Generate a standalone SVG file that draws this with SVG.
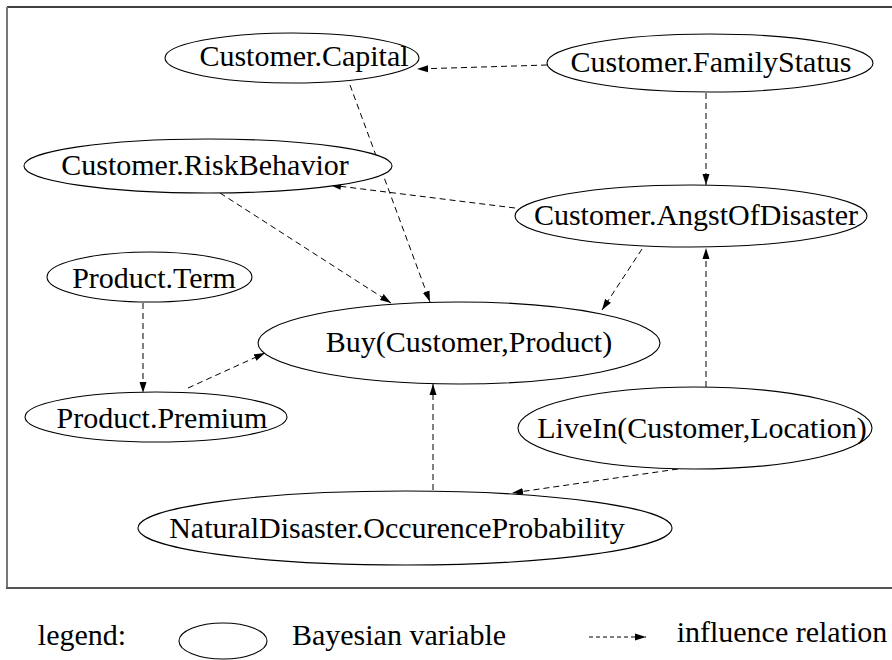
<svg xmlns="http://www.w3.org/2000/svg" width="892" height="660" viewBox="0 0 892 660">
  <defs>
    <marker id="arrow" markerUnits="userSpaceOnUse" markerWidth="12" markerHeight="8" refX="11" refY="4" orient="auto">
      <path d="M0,0.5 L11,4 L0,7.5 z" fill="#000"/>
    </marker>
  </defs>
  <style>
    .node ellipse { fill: #fff; stroke: #000; stroke-width: 1.1; }
    text { font-family: 'Liberation Serif', 'DejaVu Serif', serif; font-size: 30px; fill: #000; text-anchor: middle; }
    .edge { fill: none; stroke: #000; stroke-width: 1; stroke-dasharray: 6 4; marker-end: url(#arrow); }
  </style>
  <rect width="892" height="660" fill="#fff"/>

  <!-- frame -->
  <g id="frame" fill="none">
    <line x1="7" y1="7" x2="892" y2="7" stroke="#000" stroke-width="1.5"/>
    <line x1="7" y1="7" x2="7" y2="589" stroke="#777" stroke-width="2"/>
    <line x1="6" y1="588" x2="892" y2="588" stroke="#555" stroke-width="2"/>
  </g>

  <!-- influence relations -->
  <g id="connectors">
    <line class="edge" x1="547" y1="65" x2="417" y2="69"/>
    <line class="edge" x1="706" y1="93" x2="706" y2="185"/>
    <line class="edge" x1="515" y1="208" x2="330" y2="185"/>
    <line class="edge" x1="350" y1="85" x2="430" y2="302"/>
    <line class="edge" x1="220" y1="193" x2="391" y2="303"/>
    <line class="edge" x1="642" y1="249" x2="602" y2="310"/>
    <line class="edge" x1="143" y1="303" x2="143" y2="393"/>
    <line class="edge" x1="188" y1="388" x2="265" y2="353"/>
    <line class="edge" x1="706" y1="387" x2="706" y2="248"/>
    <line class="edge" x1="678" y1="469" x2="512" y2="493"/>
    <line class="edge" x1="433" y1="490" x2="433" y2="384"/>
  </g>

  <g id="customer-capital" class="node" font-family="Liberation Serif, serif">
    <ellipse cx="292" cy="58" rx="127" ry="25"/>
    <text x="304" y="66">Customer.Capital</text>
  </g>
  <g id="customer-familystatus" class="node">
    <ellipse cx="710" cy="63" rx="163" ry="29"/>
    <text x="711" y="72">Customer.FamilyStatus</text>
  </g>
  <g id="customer-riskbehavior" class="node">
    <ellipse cx="208" cy="166" rx="184" ry="27"/>
    <text x="205" y="175">Customer.RiskBehavior</text>
  </g>
  <g id="customer-angstofdisaster" class="node">
    <ellipse cx="691" cy="216" rx="176" ry="31"/>
    <text x="696" y="225">Customer.AngstOfDisaster</text>
  </g>
  <g id="product-term" class="node">
    <ellipse cx="149.5" cy="277" rx="102.5" ry="25"/>
    <text x="154" y="288">Product.Term</text>
  </g>
  <g id="buy" class="node">
    <ellipse cx="459" cy="343" rx="201" ry="41"/>
    <text x="469" y="352">Buy(Customer,Product)</text>
  </g>
  <g id="product-premium" class="node">
    <ellipse cx="156" cy="417" rx="131" ry="25"/>
    <text x="162" y="428">Product.Premium</text>
  </g>
  <g id="livein" class="node">
    <ellipse cx="695" cy="428" rx="177" ry="41"/>
    <text x="702" y="438">LiveIn(Customer,Location)</text>
  </g>
  <g id="naturaldisaster" class="node">
    <ellipse cx="405" cy="528" rx="267" ry="37"/>
    <text x="397" y="538">NaturalDisaster.OccurenceProbability</text>
  </g>

  <!-- legend -->
  <g id="legend">
    <text x="82" y="645">legend:</text>
    <ellipse cx="223" cy="641" rx="44" ry="18" fill="#fff" stroke="#000" stroke-width="1.1"/>
    <text x="399" y="645">Bayesian variable</text>
    <line x1="589" y1="637" x2="646" y2="637" stroke="#000" stroke-width="1" stroke-dasharray="4 3" marker-end="url(#arrow)"/>
    <text x="782" y="642">influence relation</text>
  </g>
</svg>
